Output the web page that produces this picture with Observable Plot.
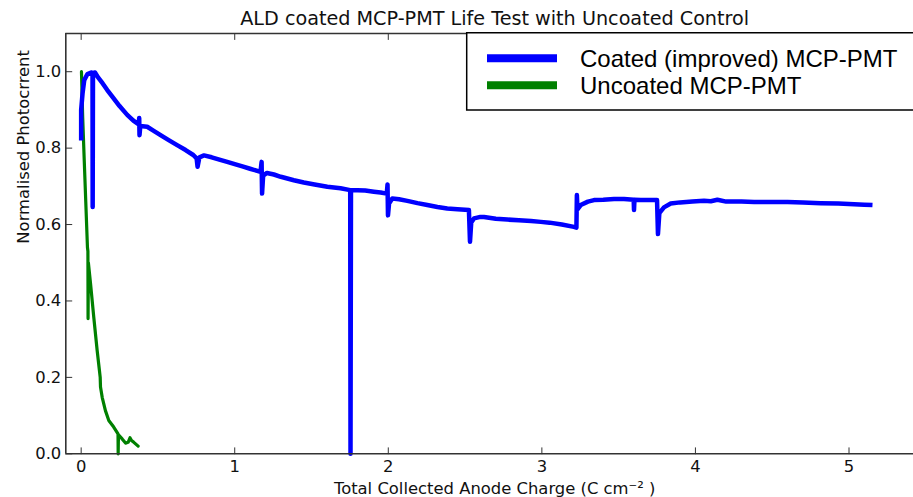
<!DOCTYPE html>
<html>
<head>
<meta charset="utf-8">
<script src="https://cdn.jsdelivr.net/npm/d3@7"></script>
<script src="https://cdn.jsdelivr.net/npm/@observablehq/plot@0.6"></script>
<style>
  html, body { margin: 0; padding: 0; background: #fff; overflow: hidden; }
  svg { display: block; }
</style>
</head>
<body>
<script>
// ---- data ----
const coatedX = [0, 0, 0.009, 0.02, 0.041, 0.065, 0.074, 0.075, 0.077, 0.09, 0.11, 0.139, 0.17, 0.204, 0.25, 0.30, 0.34, 0.375, 0.378, 0.38, 0.385, 0.43, 0.47, 0.517, 0.57, 0.625, 0.68, 0.73, 0.752, 0.758, 0.77, 0.80, 0.85, 0.90, 0.951, 1.0, 1.05, 1.10, 1.168, 1.175, 1.178, 1.185, 1.21, 1.255, 1.30, 1.385, 1.45, 1.52, 1.603, 1.689, 1.752, 1.754, 1.757, 1.80, 1.85, 1.906, 1.95, 1.99, 1.995, 1.998, 2.005, 2.026, 2.07, 2.124, 2.19, 2.254, 2.32, 2.384, 2.45, 2.525, 2.532, 2.54, 2.558, 2.60, 2.623, 2.70, 2.775, 2.85, 2.93, 2.993, 3.05, 3.13, 3.209, 3.225, 3.228, 3.232, 3.253, 3.30, 3.34, 3.40, 3.47, 3.535, 3.598, 3.600, 3.603, 3.644, 3.70, 3.75, 3.756, 3.765, 3.795, 3.839, 3.90, 3.98, 4.056, 4.10, 4.143, 4.20, 4.30, 4.382, 4.50, 4.60, 4.70, 4.816, 4.93, 5.033, 5.10, 5.153];
const coatedY = [0.82, 0.90, 0.943, 0.978, 0.994, 0.998, 0.997, 0.646, 0.997, 0.998, 0.985, 0.970, 0.952, 0.934, 0.910, 0.887, 0.872, 0.862, 0.879, 0.834, 0.858, 0.856, 0.846, 0.834, 0.821, 0.808, 0.795, 0.782, 0.773, 0.751, 0.776, 0.781, 0.776, 0.770, 0.764, 0.758, 0.752, 0.746, 0.738, 0.764, 0.681, 0.728, 0.735, 0.731, 0.725, 0.716, 0.710, 0.705, 0.699, 0.695, 0.690, 0.0, 0.690, 0.690, 0.689, 0.686, 0.684, 0.681, 0.705, 0.624, 0.655, 0.668, 0.666, 0.662, 0.656, 0.651, 0.646, 0.642, 0.640, 0.638, 0.555, 0.605, 0.616, 0.620, 0.620, 0.615, 0.613, 0.611, 0.609, 0.607, 0.605, 0.600, 0.594, 0.592, 0.677, 0.640, 0.651, 0.660, 0.664, 0.665, 0.667, 0.667, 0.665, 0.638, 0.665, 0.664, 0.664, 0.664, 0.575, 0.630, 0.645, 0.655, 0.658, 0.660, 0.662, 0.661, 0.665, 0.660, 0.660, 0.659, 0.659, 0.659, 0.658, 0.656, 0.655, 0.653, 0.652, 0.651];

const uncoatedX = [0.002, 0.01, 0.02, 0.03, 0.041, 0.044, 0.045, 0.047, 0.061, 0.082, 0.104, 0.119, 0.124, 0.126, 0.137, 0.158, 0.18, 0.212, 0.24, 0.241, 0.243, 0.267, 0.289, 0.306, 0.318, 0.328, 0.343, 0.371];
const uncoatedY = [1.0, 0.88, 0.769, 0.66, 0.54, 0.53, 0.354, 0.50, 0.446, 0.358, 0.271, 0.218, 0.20, 0.175, 0.148, 0.113, 0.087, 0.070, 0.052, 0.0, 0.050, 0.039, 0.028, 0.030, 0.042, 0.035, 0.030, 0.020];

const xTicks = [0, 1, 2, 3, 4, 5];
const yTicks = [0.0, 0.2, 0.4, 0.6, 0.8, 1.0];
const seriesNames = ["Coated (improved) MCP-PMT", "Uncoated MCP-PMT"];
const seriesColors = ["#0000ff", "#008000"];
const titleText = "ALD coated MCP-PMT Life Test with Uncoated Control";
const xLabel = "Total Collected Anode Charge (C cm\u207B\u00B2 )";
const yLabel = "Normalised Photocrrent";

const coated = coatedX.map((x, i) => ({x, y: coatedY[i]}));
const uncoated = uncoatedX.map((x, i) => ({x, y: uncoatedY[i]}));

const tickShape = { draw(context, l) { context.moveTo(0, 0); context.lineTo(0, -l); } };
const axisColor = "#333";
const font = "DejaVu Sans";

const svg = Plot.plot({
  width: 913,
  height: 497,
  marginLeft: 65.3,
  marginRight: 0,
  marginTop: 33,
  marginBottom: 43.7,
  style: { fontFamily: font, fontSize: "16.4px", color: "#111", background: "#fff", overflow: "hidden" },
  x: { domain: [-0.1, 5.42] },
  y: { domain: [0, 1.1] },
  marks: [
    Plot.line(uncoated, { x: "x", y: "y", stroke: seriesColors[1], strokeWidth: 3.2, strokeLinejoin: "round", strokeLinecap: "round" }),
    Plot.line(coated, { x: "x", y: "y", stroke: seriesColors[0], strokeWidth: 4.5, strokeLinejoin: "round", strokeLinecap: "butt" }),
    // frame (left, top, bottom)
    Plot.ruleY([0, 1.1], { stroke: axisColor, strokeWidth: 1.6 }),
    Plot.ruleX([-0.1], { stroke: axisColor, strokeWidth: 1.6 }),
    // inward ticks
    Plot.vector(xTicks, { x: d => d, frameAnchor: "bottom", length: 6, rotate: 0, anchor: "start", shape: tickShape, stroke: axisColor, strokeWidth: 1 }),
    Plot.vector(xTicks, { x: d => d, frameAnchor: "top", length: 6, rotate: 180, anchor: "start", shape: tickShape, stroke: axisColor, strokeWidth: 1 }),
    Plot.vector(yTicks, { y: d => d, frameAnchor: "left", length: 6, rotate: 90, anchor: "start", shape: tickShape, stroke: axisColor, strokeWidth: 1 }),
    // tick labels
    Plot.axisX(xTicks, { anchor: "bottom", tickSize: 0, tickPadding: 7, label: null, tickFormat: d => String(d), fontSize: 16.4 }),
    Plot.axisY(yTicks, { anchor: "left", tickSize: 0, tickPadding: 4.5, label: null, tickFormat: d => d.toFixed(1), fontSize: 16.4 }),
    // title and axis labels
    Plot.text([titleText], { frameAnchor: "top", dx: 5, dy: -9, lineAnchor: "bottom", fontSize: 19.2, fill: "#111" }),
    Plot.text([xLabel], { frameAnchor: "bottom", dx: 5, dy: 40, lineAnchor: "bottom", fontSize: 16.4, fill: "#111" }),
    Plot.text([yLabel], { frameAnchor: "left", dx: -42, rotate: -90, lineAnchor: "middle", fontSize: 16.4, fill: "#111" })
  ]
});

// legend box (matplotlib-style, upper right; its right side runs past the picture edge)
const lg = d3.select(svg).append("g").attr("class", "legend").attr("text-anchor", "start");
lg.append("path").attr("d", "M 940 32.7 H 466.7 V 110 H 940")
  .attr("fill", "#fff").attr("stroke", "#000").attr("stroke-width", 1.5);
seriesNames.forEach((name, i) => {
  const cy = 58.3 + i * 27;
  lg.append("line").attr("x1", 487).attr("x2", 557).attr("y1", cy).attr("y2", cy)
    .attr("stroke", seriesColors[i]).attr("stroke-width", 8);
  lg.append("text").attr("x", 580).attr("y", cy + 8.6).text(name)
    .attr("text-anchor", "start")
    .attr("font-family", "Liberation Sans, Arial, sans-serif").attr("font-size", 24).attr("fill", "#000");
});

document.body.appendChild(svg);
</script>
</body>
</html>
